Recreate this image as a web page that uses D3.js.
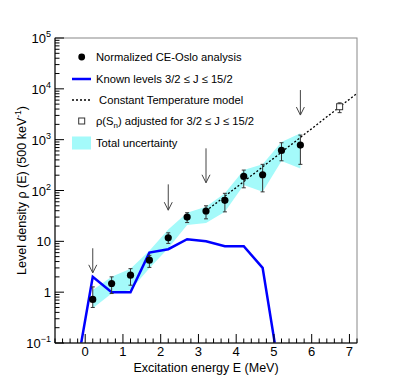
<!DOCTYPE html>
<html>
<head>
<meta charset="utf-8">
<script src="https://cdn.jsdelivr.net/npm/d3@7"></script>
<style>
  body { margin: 0; background: #fff; }
  svg { font-family: "Liberation Sans", Arial, sans-serif; }
  .lbl { font-size: 13px; fill: #000; }
  .leg { font-size: 11.2px; fill: #000; }
</style>
</head>
<body>
<svg id="chart" width="397" height="381"></svg>
<script>
// CE-Oslo normalized level density
const ceE = [0.2, 0.7, 1.2, 1.7, 2.2, 2.7, 3.2, 3.7, 4.2, 4.7, 5.2, 5.7]
const ceRho = [0.72, 1.48, 2.16, 4.25, 11.7, 30, 39.5, 64, 189, 204, 615, 783]
const ceLo = [0.50, 0.94, 1.37, 3.07, 9.1, 23.4, 27.7, 38, 113, 94, 384, 327]
const ceHi = [1.27, 2.0, 2.9, 5.3, 14.7, 36.6, 50, 88, 252, 327, 870, 1230]

// total uncertainty band
const bandLo = [0.48, 0.94, 1.1, 2.95, 7.3, 21, 23, 38, 128, 94, 380, 272]
const bandHi = [1.1, 2.0, 2.9, 6.5, 17, 36.6, 48, 88, 252, 327, 900, 1330]

// known levels 3/2 <= J <= 15/2
const knownE = [-0.3, 0.2, 0.7, 1.2, 1.7, 2.2, 2.7, 3.2, 3.7, 4.2, 4.7, 5.2]
const knownRho = [0.015, 2, 1, 1, 6, 7, 11, 10, 8, 8, 3, 0.015]

// constant temperature model (straight in log scale)
const ctE = [3.2, 7.2]
const ctRho = [39.5, 8150]

// rho(Sn)
const snE = [6.74]
const snRho = [4450]
const snLo = [3400]
const snHi = [5300]

// arrows: top and tip values
const arrowE = [0.2, 2.2, 3.2, 5.7]
const arrowTop = [7.3, 132, 675, 9460]
const arrowTip = [2.4, 41, 142, 3050]

const yTicks = [0.1, 1, 10, 100, 1000, 10000, 100000]
const xTicks = [0, 1, 2, 3, 4, 5, 6, 7]

const svg = d3.select('#chart')
const mL = 55, mR = 357, mT = 38, mB = 343

const x = d3.scaleLinear().domain([-0.8, 7.2]).range([mL, mR])
const y = d3.scaleLog().domain([0.1, 1e5]).range([mB, mT])

const defs = svg.append('defs')
defs.append('clipPath').attr('id', 'clip')
  .append('rect')
  .attr('x', mL).attr('y', mT)
  .attr('width', mR - mL).attr('height', mB - mT)

const plot = svg.append('g').attr('clip-path', 'url(#clip)')

// band
const bandPts = ceE.map((e, i) => [x(e), y(bandHi[i])])
  .concat(ceE.map((e, i) => [x(e), y(bandLo[i])]).reverse())
plot.append('path')
  .attr('d', d3.line()(bandPts) + 'Z')
  .attr('fill', '#a4fafa')

// known levels
plot.append('path')
  .datum(knownE.map((e, i) => [e, knownRho[i]]))
  .attr('d', d3.line().x(d => x(d[0])).y(d => y(d[1])))
  .attr('fill', 'none')
  .attr('stroke', '#0000ff')
  .attr('stroke-width', 2.5)
  .attr('stroke-linejoin', 'miter')

// CT model
plot.append('path')
  .datum(ctE.map((e, i) => [e, ctRho[i]]))
  .attr('d', d3.line().x(d => x(d[0])).y(d => y(d[1])))
  .attr('fill', 'none')
  .attr('stroke', '#000')
  .attr('stroke-width', 1.3)
  .attr('stroke-dasharray', '2,2')

// error bars
function errBars (es, lo, hi, color) {
  const g = plot.append('g').attr('stroke', color).attr('stroke-width', 1)
  es.forEach((e, i) => {
    g.append('line').attr('x1', x(e)).attr('x2', x(e)).attr('y1', y(lo[i])).attr('y2', y(hi[i]))
    ;[lo[i], hi[i]].forEach(v => {
      g.append('line').attr('x1', x(e) - 2).attr('x2', x(e) + 2).attr('y1', y(v)).attr('y2', y(v))
    })
  })
}
errBars(ceE, ceLo, ceHi, '#333')
errBars(snE, snLo, snHi, '#333')

plot.append('g')
  .selectAll('circle')
  .data(ceE)
  .enter()
  .append('circle')
  .attr('cx', d => x(d))
  .attr('cy', (d, i) => y(ceRho[i]))
  .attr('r', 3.6)
  .attr('fill', '#000')

plot.append('g')
  .selectAll('rect')
  .data(snE)
  .enter()
  .append('rect')
  .attr('x', d => x(d) - 3)
  .attr('y', (d, i) => y(snRho[i]) - 3)
  .attr('width', 6)
  .attr('height', 6)
  .attr('fill', '#fff')
  .attr('stroke', '#333')
  .attr('stroke-width', 1)

// arrows
const arr = svg.append('g').attr('stroke', '#444').attr('stroke-width', 1).attr('fill', 'none')
arrowE.forEach((e, i) => {
  const ax = x(e), y0 = y(arrowTop[i]), y1 = y(arrowTip[i])
  arr.append('line').attr('x1', ax).attr('x2', ax).attr('y1', y0).attr('y2', y1)
  arr.append('path').attr('d', `M${ax - 4},${y1 - 8}L${ax},${y1}L${ax + 4},${y1 - 8}`)
})

// frame
svg.append('rect')
  .attr('x', mL).attr('y', mT)
  .attr('width', mR - mL).attr('height', mB - mT)
  .attr('fill', 'none').attr('stroke', '#888').attr('stroke-width', 1)

// x axis
const xMinor = d3.range(-0.8, 7.21, 0.2).filter(v => Math.abs(v - Math.round(v)) > 0.01)
const xa = svg.append('g').attr('stroke', '#000').attr('stroke-width', 1)
xa.append('line').attr('x1', mL).attr('x2', mR).attr('y1', mB).attr('y2', mB)
xTicks.forEach(t => {
  xa.append('line').attr('x1', x(t)).attr('x2', x(t)).attr('y1', mB).attr('y2', mB - 9)
})
xMinor.forEach(t => {
  xa.append('line').attr('x1', x(t)).attr('x2', x(t)).attr('y1', mB).attr('y2', mB - 4.5)
})
svg.append('g')
  .selectAll('text')
  .data(xTicks)
  .enter()
  .append('text')
  .attr('class', 'lbl')
  .attr('x', d => x(d))
  .attr('y', 356)
  .attr('text-anchor', 'middle')
  .text(d => d)

svg.append('text')
  .attr('class', 'lbl')
  .attr('x', (mL + mR) / 2)
  .attr('y', 372)
  .attr('text-anchor', 'middle')
  .style('font-size', '12.5px')
  .text('Excitation energy E (MeV)')

// y axis
const ya = svg.append('g').attr('stroke', '#000').attr('stroke-width', 1)
ya.append('line').attr('x1', mL).attr('x2', mL).attr('y1', mT).attr('y2', mB)
yTicks.forEach(t => {
  ya.append('line').attr('x1', mL).attr('x2', mL + 9).attr('y1', y(t)).attr('y2', y(t))
})
yTicks.slice(0, -1).forEach(t => {
  d3.range(2, 10).forEach(m => {
    ya.append('line').attr('x1', mL).attr('x2', mL + 4.5).attr('y1', y(t * m)).attr('y2', y(t * m))
  })
})
const ylab = svg.append('g')
yTicks.forEach(t => {
  const ex = Math.round(Math.log10(t))
  const tx = ylab.append('text').attr('class', 'lbl')
    .attr('x', 51).attr('y', y(t) + 5).attr('text-anchor', 'end')
  if (ex === 0) tx.text('1')
  else if (ex === 1) tx.text('10')
  else {
    tx.append('tspan').text('10')
    tx.append('tspan').attr('dy', -6).style('font-size', '9px').text(ex < 0 ? '\u2212' + (-ex) : ex)
  }
})

svg.append('text')
  .attr('class', 'lbl')
  .attr('transform', `translate(26,${(mT + mB) / 2}) rotate(-90)`)
  .attr('text-anchor', 'middle')
  .style('font-size', '12.5px')
  .call(t => {
    t.append('tspan').text('Level density \u03c1 (E) (500 keV')
    t.append('tspan').attr('dy', -5).style('font-size', '8.5px').text('-1')
    t.append('tspan').attr('dy', 5).text(')')
  })

// legend
const legY = [57, 79, 100, 121, 143]
const lg = svg.append('g')
lg.append('circle').attr('cx', 81.7).attr('cy', legY[0]).attr('r', 3.4).attr('fill', '#000')
lg.append('line').attr('x1', 72).attr('x2', 91).attr('y1', legY[1]).attr('y2', legY[1])
  .attr('stroke', '#0000ff').attr('stroke-width', 2.5)
lg.append('line').attr('x1', 72).attr('x2', 91).attr('y1', legY[2]).attr('y2', legY[2])
  .attr('stroke', '#000').attr('stroke-width', 1.3).attr('stroke-dasharray', '2,2')
lg.append('rect').attr('x', 78.7).attr('y', legY[3] - 3).attr('width', 6).attr('height', 6)
  .attr('fill', '#fff').attr('stroke', '#333')
lg.append('rect').attr('x', 72).attr('y', legY[4] - 6.5).attr('width', 19).attr('height', 13)
  .attr('fill', '#a4fafa')

const legText = [
  'Normalized CE-Oslo analysis',
  'Known levels 3/2 \u2264 J \u2264 15/2',
  ' Constant Temperature model',
  null,
  'Total uncertainty'
]
legText.forEach((t, i) => {
  if (!t) return
  lg.append('text').attr('class', 'leg').attr('x', 96).attr('y', legY[i] + 4)
    .attr('xml:space', 'preserve').text(t)
})
lg.append('text').attr('class', 'leg').attr('x', 96).attr('y', legY[3] + 4)
  .call(t => {
    t.append('tspan').text('\u03c1(S')
    t.append('tspan').attr('dy', 3).style('font-size', '8px').text('n')
    t.append('tspan').attr('dy', -3).text(') adjusted for 3/2 \u2264 J \u2264 15/2')
  })
</script>
</body>
</html>
